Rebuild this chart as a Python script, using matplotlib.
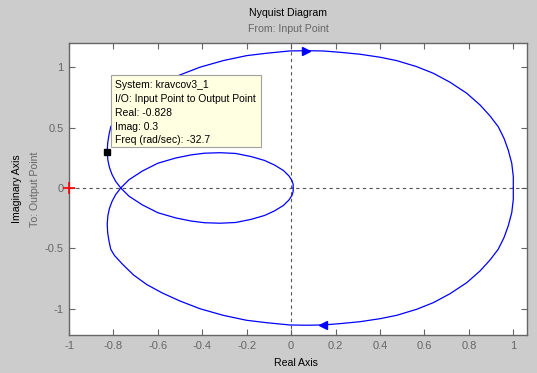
import numpy as np
import matplotlib
matplotlib.use('Agg')
import matplotlib.pyplot as plt
from matplotlib.patches import Rectangle

plt.rcParams['font.family'] = ['Liberation Sans', 'DejaVu Sans']

# one branch of the Nyquist curve: from (1,0) over the
# top arc, down the left side, through the crossing and the lower small loop
re_branch = [1.0, 1.0, 0.993, 0.977, 0.958, 0.932, 0.895, 0.850, 0.790, 0.715,
             0.640, 0.565, 0.475, 0.400, 0.309, 0.219, 0.143, 0.069, -0.006,
             -0.111, -0.201, -0.306, -0.411, -0.501, -0.58, -0.65, -0.71,
             -0.76, -0.795, -0.812, -0.82, -0.826, -0.828, -0.825, -0.818,
             -0.806, -0.79, -0.767, -0.73, -0.67, -0.60, -0.52, -0.45, -0.39,
             -0.32, -0.25, -0.18, -0.12, -0.075, -0.035, -0.01, 0.004, 0.009,
             0.009]
im_branch = [0.0, 0.094, 0.205, 0.315, 0.412, 0.508, 0.597, 0.688, 0.785, 0.876,
             0.950, 1.005, 1.055, 1.083, 1.108, 1.124, 1.135, 1.137, 1.135,
             1.116, 1.096, 1.055, 1.0, 0.936, 0.87, 0.80, 0.72,
             0.63, 0.56, 0.508, 0.44, 0.37, 0.3, 0.23, 0.17,
             0.11, 0.055, 0.0, -0.068, -0.14, -0.205, -0.248, -0.274, -0.288,
             -0.292, -0.286, -0.26, -0.228, -0.19, -0.145, -0.1, -0.06, -0.03,
             0.0]

# data tip
tip_re = -0.828
tip_im = 0.3
tip_lines = ['System: kravcov3_1', 'I/O: Input Point to Output Point',
             'Real: -0.828', 'Imag: 0.3', 'Freq (rad/sec): -32.7']

re = np.array(re_branch)
im = np.array(im_branch)

W, H = 537, 373
def fx(p):
    return p / W
def fy(p):
    return 1 - p / H

fig = plt.figure(figsize=(W / 100, H / 100), dpi=100, facecolor='#cccccc')
ax = fig.add_axes([fx(69), fy(335), fx(527.3) - fx(69), fy(42.5) - fy(335)])
ax.set_facecolor('white')

gray = '#666666'
ax.axhline(0, color='#555555', lw=0.8, ls=(0, (3, 3)))
ax.axvline(0, color='#555555', lw=0.8, ls=(0, (3, 3)))

# branch and its mirror image (negative frequencies)
ax.plot(re, im, color='blue', lw=0.9)
ax.plot(re, -im, color='blue', lw=0.9)
ax.plot(re[17], im[17], marker='>', color='blue', ms=6)
ax.plot(re[16], -im[16], marker='<', color='blue', ms=6)

ax.plot(-1, 0, marker='+', color='red', ms=8, mew=1.2, clip_on=False, zorder=5)
ax.plot(tip_re, tip_im, marker='s', color='black', ms=5, zorder=6)

ax.set_xlim(-1, 1.063)
ax.set_ylim(-1.218, 1.205)
ax.set_xticks(np.arange(-1, 1.01, 0.2))
ax.set_xticklabels(['-1', '-0.8', '-0.6', '-0.4', '-0.2', '0', '0.2', '0.4', '0.6', '0.8', '1'])
ax.set_yticks([-1, -0.5, 0, 0.5, 1])
ax.set_yticklabels(['-1', '-0.5', '0', '0.5', '1'])
ax.tick_params(direction='in', length=4, width=0.8, colors=gray, labelsize=8,
               top=True, right=True, pad=4)
for s in ax.spines.values():
    s.set_color(gray)
    s.set_linewidth(1.0)

# tooltip box
fig.patches.append(Rectangle((fx(111), fy(147.3)), fx(260.7) - fx(111), fy(75) - fy(147.3),
                             transform=fig.transFigure, facecolor='#ffffe1',
                             edgecolor='#a0a0a0', lw=0.8, zorder=10))
for i, t in enumerate(tip_lines):
    fig.text(fx(115), fy(85 + 13.85 * i), t, fontsize=7.5, va='center', ha='left', zorder=11)

fig.text(fx(288), fy(13.5), 'Nyquist Diagram', fontsize=7.6, ha='center', va='center')
fig.text(fx(288), fy(29), 'From: Input Point', fontsize=7.6, ha='center', va='center', color=gray)
fig.text(fx(296), fy(362.7), 'Real Axis', fontsize=7.6, ha='center', va='center')
fig.text(fx(17.5), fy(189), 'Imaginary Axis', fontsize=7.6, ha='center', va='center', rotation=90)
fig.text(fx(35.5), fy(189), 'To: Output Point', fontsize=7.6, ha='center', va='center',
         rotation=90, color=gray)

fig.savefig('out.png', dpi=100, facecolor=fig.get_facecolor())
